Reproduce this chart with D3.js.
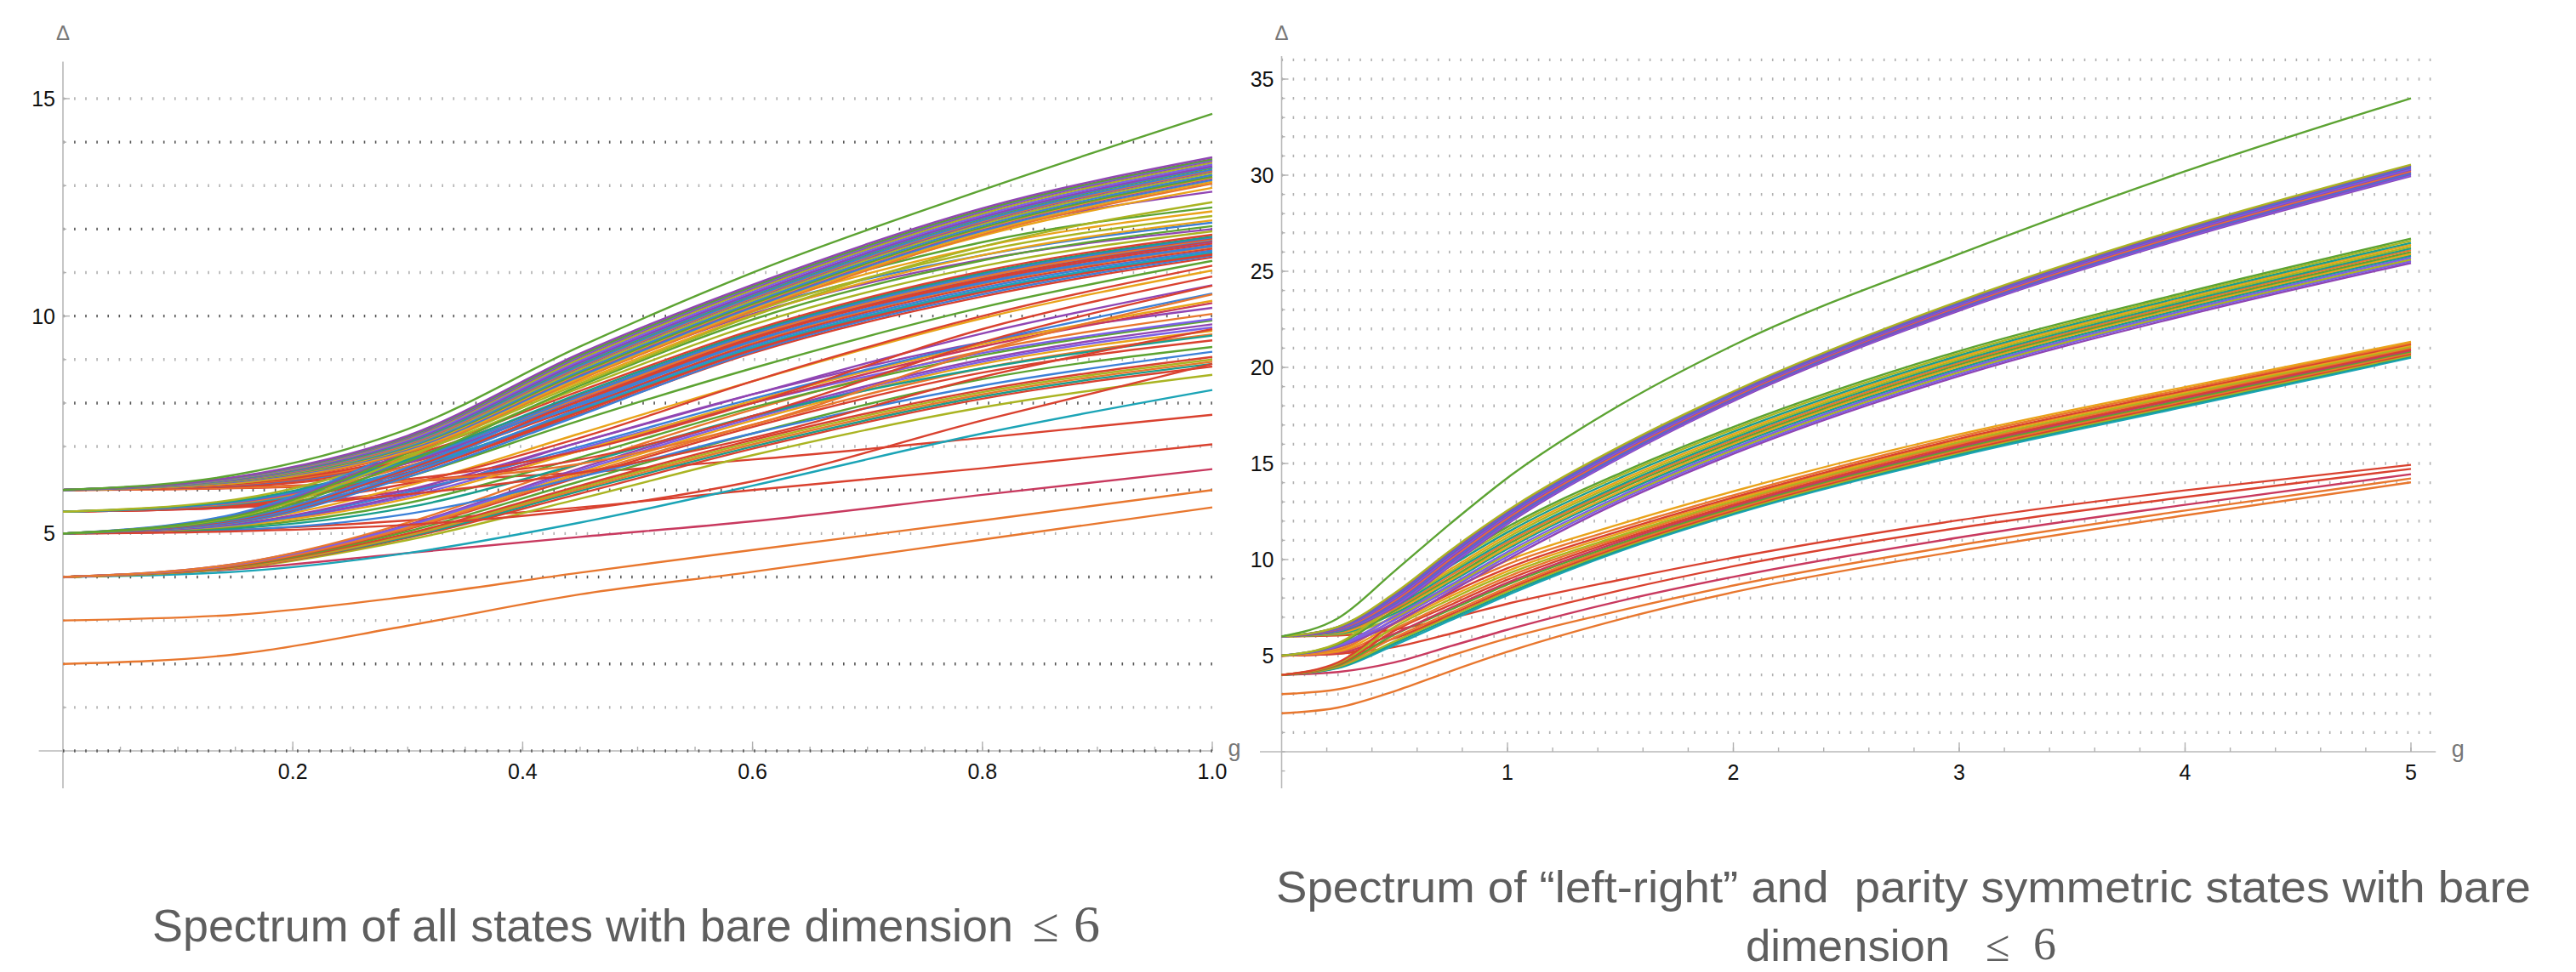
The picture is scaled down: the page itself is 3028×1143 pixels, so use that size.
<!DOCTYPE html>
<html><head><meta charset="utf-8">
<script src="https://cdn.jsdelivr.net/npm/d3@7"></script>
<style>
html,body{margin:0;padding:0;background:#fff;}
svg{display:block;}
.tick-label{font-family:"Liberation Sans","Helvetica","Arial",sans-serif;font-size:25px;fill:#111;}
.axis-name{font-family:"Liberation Sans","Helvetica","Arial",sans-serif;font-size:24px;fill:#777;}
.title{font-family:"Liberation Sans","Helvetica","Arial",sans-serif;fill:#5e5e5e;}
.math{font-family:"Liberation Serif","DejaVu Serif",serif;fill:#5e5e5e;}
</style></head>
<body>
<svg id="c" width="3028" height="1143"></svg>
<script>
// ---------- DATA ----------
const leftG = [0, 0.15, 0.3, 0.45, 0.6, 0.8, 1.0];
const leftSeries = [
  [2, 2.22, 2.88, 3.60, 4.12, 4.86, 5.60],
  [3, 3.13, 3.55, 4.10, 4.62, 5.30, 6.00],
  [4, 4.18, 4.55, 4.92, 5.28, 5.89, 6.48],
  [5, 5.08, 5.30, 5.60, 6.00, 6.50, 7.05],
  [6, 6.06, 6.20, 6.40, 6.70, 7.20, 7.73],
  [4, 4.12, 4.55, 5.25, 6.10, 7.30, 8.30],
  [4, 4.20, 4.85, 5.80, 6.80, 7.90, 8.65],
  [4, 4.21, 4.90, 5.92, 6.95, 8.10, 8.84],
  [4, 4.22, 4.92, 5.98, 7.00, 8.15, 8.90],
  [4, 4.22, 4.95, 6.02, 7.05, 8.20, 8.95],
  [4, 4.23, 4.97, 6.06, 7.10, 8.25, 9.00],
  [4, 4.24, 5.00, 6.10, 7.15, 8.30, 9.06],
  [4, 4.25, 5.05, 6.20, 7.30, 8.55, 9.29],
  [4, 4.26, 5.10, 6.30, 7.45, 8.70, 9.44],
  [4, 4.28, 5.15, 6.40, 7.60, 8.90, 9.66],
  [4, 4.30, 5.20, 6.50, 7.70, 9.00, 9.81],
  [4, 4.27, 5.12, 6.35, 7.50, 8.80, 9.58],
  [4, 4.29, 5.18, 6.45, 7.65, 8.95, 9.74],
  [4, 4.30, 5.25, 6.60, 7.85, 9.20, 10.05],
  [5, 5.08, 5.45, 6.30, 7.30, 8.40, 9.18],
  [5, 5.12, 5.60, 6.60, 7.70, 8.80, 9.55],
  [5, 5.15, 5.70, 6.75, 7.90, 9.10, 9.90],
  [5, 5.20, 5.85, 6.95, 8.00, 9.15, 9.93],
  [5, 5.20, 5.90, 7.10, 8.20, 9.40, 10.19],
  [5.5, 5.60, 6.00, 6.90, 8.00, 9.30, 10.30],
  [5, 5.18, 5.80, 6.90, 8.05, 9.35, 10.35],
  [5, 5.20, 5.95, 7.00, 8.10, 9.40, 10.52],
  [5, 5.22, 6.00, 7.10, 8.20, 9.60, 10.71],
  [6, 6.04, 6.20, 6.70, 7.70, 9.40, 10.70],
  [6, 6.05, 6.25, 6.90, 8.00, 9.70, 10.91],
  [5, 5.25, 6.10, 7.30, 8.50, 9.95, 11.05],
  [5.5, 5.62, 6.15, 7.20, 8.50, 10.00, 11.16],
  [5, 5.30, 6.30, 7.60, 8.80, 10.20, 11.27],
  [5, 5.05, 5.20, 5.55, 6.20, 7.60, 8.90],
  [5.5, 5.60, 5.90, 6.40, 7.20, 8.60, 9.70],
  [6, 6.05, 6.20, 6.60, 7.50, 9.20, 10.50],
  [5.5, 5.64, 6.40, 7.75, 9.15, 10.45, 11.35],
  [5, 5.25, 6.30, 7.72, 9.18, 10.50, 11.39],
  [5, 5.27, 6.35, 7.80, 9.26, 10.60, 11.41],
  [6, 6.08, 6.55, 7.80, 9.22, 10.55, 11.43],
  [5.5, 5.66, 6.45, 7.82, 9.25, 10.58, 11.45],
  [5.5, 5.68, 6.48, 7.85, 9.28, 10.60, 11.47],
  [5, 5.28, 6.38, 7.88, 9.32, 10.65, 11.51],
  [6, 6.10, 6.62, 7.92, 9.36, 10.70, 11.55],
  [5.5, 5.70, 6.55, 7.98, 9.40, 10.74, 11.59],
  [6, 6.11, 6.66, 7.96, 9.42, 10.76, 11.61],
  [5, 5.30, 6.45, 8.00, 9.44, 10.78, 11.63],
  [6, 6.12, 6.70, 8.05, 9.48, 10.82, 11.67],
  [5.5, 5.72, 6.62, 8.10, 9.52, 10.86, 11.71],
  [5, 5.31, 6.48, 8.05, 9.50, 10.85, 11.73],
  [5, 5.33, 6.52, 8.12, 9.56, 10.90, 11.75],
  [6, 6.13, 6.74, 8.12, 9.55, 10.90, 11.77],
  [6, 6.14, 6.78, 8.18, 9.60, 10.95, 11.79],
  [5.5, 5.73, 6.66, 8.16, 9.60, 10.95, 11.81],
  [5.5, 5.75, 6.70, 8.22, 9.64, 10.99, 11.83],
  [6, 6.15, 6.85, 8.28, 9.68, 11.03, 11.87],
  [5.5, 5.78, 6.80, 8.35, 9.80, 11.15, 11.95],
  [5, 5.42, 6.88, 8.60, 10.05, 11.30, 12.00],
  [5, 5.35, 6.65, 8.40, 9.92, 11.28, 12.07],
  [5, 5.45, 6.95, 8.70, 10.15, 11.40, 12.15],
  [6, 6.16, 6.92, 8.50, 10.02, 11.40, 12.20],
  [5, 5.38, 6.75, 8.55, 10.10, 11.50, 12.30],
  [6, 6.17, 6.98, 8.60, 10.18, 11.60, 12.41],
  [5, 5.40, 6.85, 8.65, 10.25, 11.70, 12.50],
  [6, 6.16, 6.88, 8.45, 10.00, 11.60, 12.62],
  [6, 6.18, 7.02, 8.70, 10.30, 11.95, 12.86],
  [6, 6.17, 6.95, 8.62, 10.20, 11.85, 12.95],
  [6, 6.18, 6.87, 8.55, 10.12, 11.88, 13.05],
  [6, 6.19, 6.90, 8.58, 10.16, 11.92, 13.09],
  [6, 6.19, 6.93, 8.62, 10.20, 11.96, 13.13],
  [6, 6.20, 6.95, 8.66, 10.24, 12.00, 13.17],
  [6, 6.21, 6.96, 8.68, 10.26, 12.02, 13.19],
  [6, 6.21, 6.98, 8.70, 10.28, 12.04, 13.21],
  [6, 6.22, 7.00, 8.74, 10.32, 12.08, 13.25],
  [6, 6.22, 7.03, 8.78, 10.36, 12.12, 13.29],
  [6, 6.23, 7.05, 8.82, 10.40, 12.16, 13.33],
  [6, 6.24, 7.06, 8.84, 10.42, 12.18, 13.35],
  [6, 6.24, 7.08, 8.86, 10.44, 12.20, 13.37],
  [6, 6.25, 7.10, 8.90, 10.48, 12.24, 13.41],
  [6, 6.26, 7.12, 8.92, 10.50, 12.26, 13.43],
  [6, 6.26, 7.13, 8.94, 10.52, 12.28, 13.45],
  [6, 6.27, 7.15, 8.98, 10.56, 12.32, 13.49],
  [6, 6.27, 7.18, 9.02, 10.60, 12.36, 13.53],
  [6, 6.28, 7.20, 9.06, 10.64, 12.40, 13.57],
  [6, 6.28, 7.22, 9.08, 10.66, 12.42, 13.59],
  [6, 6.29, 7.23, 9.10, 10.68, 12.44, 13.61],
  [6, 6.30, 7.25, 9.14, 10.72, 12.48, 13.65],
  [6, 6.35, 7.40, 9.30, 11.00, 12.90, 14.65]
];
const leftColors = ("O O P R R C L R T O L R G R Y U O V O " +
  "B T G V U P Y B U R R Y R G R R O " +
  "R B R R R C B R O B B R U R B O R B T R L U G B Y L Y G L U Y " +
  "O Y B U Y G B L U O B G B U V L U V G U G").split(" ");

const rightG = [0, 0.25, 0.5, 0.75, 1, 1.5, 2, 3, 4, 5];
const rightSeries = [
  // lowest group
  [2, 2.30, 3.15, 4.20, 5.20, 6.90, 8.30, 10.45, 12.30, 14.02],
  [3, 3.25, 4.00, 5.00, 5.90, 7.35, 8.65, 10.75, 12.55, 14.22],
  [4, 4.15, 4.65, 5.50, 6.35, 7.85, 9.10, 11.15, 12.85, 14.44],
  [5, 5.10, 5.45, 6.15, 6.95, 8.40, 9.65, 11.65, 13.25, 14.72],
  [6, 6.05, 6.35, 6.95, 7.70, 8.95, 10.10, 12.05, 13.60, 14.93],
  // third band
  [4, 4.35, 5.55, 6.85, 8.15, 10.45, 12.35, 15.40, 17.95, 20.50],
  [4, 4.38, 5.65, 6.95, 8.25, 10.52, 12.42, 15.48, 18.03, 20.57],
  [4, 4.42, 5.75, 7.05, 8.35, 10.60, 12.48, 15.56, 18.10, 20.63],
  [5, 5.10, 5.90, 7.15, 8.45, 10.68, 12.55, 15.63, 18.18, 20.70],
  [4, 4.46, 5.95, 7.25, 8.55, 10.76, 12.62, 15.71, 18.26, 20.76],
  [4, 4.50, 6.10, 7.40, 8.70, 10.85, 12.70, 15.79, 18.33, 20.83],
  [5, 5.15, 6.15, 7.50, 8.80, 10.95, 12.78, 15.87, 18.41, 20.89],
  [4, 4.55, 6.30, 7.65, 8.95, 11.05, 12.86, 15.95, 18.48, 20.96],
  [5, 5.20, 6.40, 7.80, 9.10, 11.15, 12.95, 16.03, 18.56, 21.02],
  [4, 4.60, 6.50, 7.95, 9.25, 11.25, 13.04, 16.11, 18.63, 21.08],
  [5, 5.25, 6.65, 8.10, 9.40, 11.38, 13.13, 16.20, 18.71, 21.15],
  [4, 4.65, 6.70, 8.25, 9.55, 11.50, 13.23, 16.29, 18.79, 21.21],
  [5, 5.32, 6.90, 8.45, 9.75, 11.65, 13.35, 16.40, 18.88, 21.27],
  [5, 5.40, 7.10, 8.65, 9.95, 11.85, 13.55, 16.52, 18.98, 21.33],
  // second band
  [5, 5.45, 6.70, 8.35, 10.00, 13.00, 15.50, 19.55, 22.70, 25.43],
  [5, 5.50, 6.85, 8.50, 10.15, 13.12, 15.60, 19.65, 22.80, 25.53],
  [6, 6.10, 7.00, 8.62, 10.28, 13.22, 15.70, 19.75, 22.88, 25.62],
  [5, 5.55, 7.05, 8.70, 10.40, 13.32, 15.80, 19.85, 22.97, 25.72],
  [6, 6.15, 7.20, 8.85, 10.55, 13.45, 15.92, 19.95, 23.07, 25.82],
  [6, 6.18, 7.30, 8.95, 10.65, 13.55, 16.02, 20.05, 23.16, 25.91],
  [5, 5.60, 7.35, 9.05, 10.78, 13.68, 16.12, 20.15, 23.25, 26.00],
  [6, 6.22, 7.45, 9.18, 10.90, 13.78, 16.22, 20.24, 23.34, 26.10],
  [6, 6.25, 7.55, 9.30, 11.02, 13.88, 16.32, 20.33, 23.43, 26.19],
  [5, 5.65, 7.60, 9.40, 11.15, 14.00, 16.42, 20.42, 23.52, 26.28],
  [6, 6.30, 7.72, 9.52, 11.28, 14.12, 16.53, 20.52, 23.61, 26.38],
  [6, 6.35, 7.85, 9.68, 11.42, 14.25, 16.65, 20.62, 23.70, 26.48],
  [6, 6.42, 7.98, 9.82, 11.56, 14.38, 16.78, 20.73, 23.80, 26.59],
  [6, 6.50, 8.10, 9.95, 11.70, 14.50, 16.90, 20.85, 23.90, 26.70],
  // top band
  [6, 6.30, 7.55, 9.70, 11.85, 15.30, 18.25, 22.95, 26.72, 29.95],
  [6, 6.32, 7.61, 9.77, 11.91, 15.35, 18.30, 23.00, 26.77, 30.00],
  [6, 6.34, 7.68, 9.85, 11.98, 15.41, 18.34, 23.04, 26.82, 30.06],
  [6, 6.35, 7.74, 9.92, 12.04, 15.46, 18.39, 23.09, 26.87, 30.11],
  [6, 6.37, 7.80, 9.99, 12.10, 15.52, 18.43, 23.13, 26.92, 30.17],
  [6, 6.39, 7.87, 10.06, 12.17, 15.57, 18.48, 23.18, 26.97, 30.22],
  [6, 6.41, 7.94, 10.14, 12.24, 15.63, 18.53, 23.23, 27.03, 30.28],
  [6, 6.43, 8.00, 10.21, 12.30, 15.68, 18.57, 23.27, 27.08, 30.33],
  [6, 6.45, 8.06, 10.28, 12.36, 15.74, 18.62, 23.32, 27.13, 30.39],
  [6, 6.46, 8.12, 10.36, 12.42, 15.79, 18.66, 23.36, 27.18, 30.44],
  [6, 6.48, 8.19, 10.43, 12.49, 15.85, 18.71, 23.41, 27.23, 30.50],
  [6, 6.50, 8.25, 10.50, 12.55, 15.90, 18.75, 23.45, 27.28, 30.55],
  // top line
  [6, 6.95, 9.40, 11.90, 14.25, 18.05, 21.15, 25.90, 30.20, 34.00]
];
const rightColors = ("O O P R R " +
  "C T L R O G P R O L Y R O Y " +
  "U V L V T Y G O T L Y T L G " +
  "U V U B U O U V U B U L G").split(" ");

const leftYTicks = [5, 10, 15];
const leftXTicks = [0.2, 0.4, 0.6, 0.8, 1.0];
const rightYTicks = [5, 10, 15, 20, 25, 30, 35];
const rightXTicks = [1, 2, 3, 4, 5];

const palette = {G:"#5ca332", O:"#e8772e", P:"#c8395f", C:"#1ba4b6", Y:"#e9a31a", L:"#aab422",
                 R:"#d9412f", B:"#3c80d8", U:"#9045b3", V:"#7c60e6", T:"#1a9e8e"};

// ---------- DRAW ----------
const svg = d3.select("#c");

function panel(cfg) {
  const x = d3.scaleLinear().domain(cfg.xDom).range(cfg.xRange);
  const y = d3.scaleLinear().domain(cfg.yDom).range(cfg.yRange);
  const g = svg.append("g");

  // dotted gridlines
  const grid = d3.range(cfg.gridFrom, cfg.gridTo + 1);
  g.selectAll("line.grid").data(grid).join("line")
    .attr("x1", x(0)).attr("x2", x(cfg.gridXEnd))
    .attr("y1", d => y(d)).attr("y2", d => y(d))
    .attr("stroke", d => cfg.darkEven && d % 2 === 0 ? "#555" : "#b0b0b0")
    .attr("stroke-width", 3.4)
    .attr("stroke-dasharray", "1.6 11.5");

  // axes lines
  g.append("line").attr("x1", x(0)).attr("x2", x(0))
    .attr("y1", y(cfg.yAxisFrom)).attr("y2", y(cfg.yAxisTo))
    .attr("stroke", "#b8b8b8").attr("stroke-width", 1.6);
  g.append("line").attr("x1", x(cfg.xAxisFrom)).attr("x2", x(cfg.xAxisTo))
    .attr("y1", y(0)).attr("y2", y(0))
    .attr("stroke", "#b8b8b8").attr("stroke-width", 1.6);

  // x ticks (inside, upwards)
  const xMinor = d3.range(cfg.xMinorStep, cfg.xDom[1] + 1e-9, cfg.xMinorStep);
  g.selectAll("line.xm").data(xMinor).join("line")
    .attr("x1", d => x(d)).attr("x2", d => x(d))
    .attr("y1", y(0)).attr("y2", y(0) - 5)
    .attr("stroke", "#b0b0b0").attr("stroke-width", 1.4);
  g.selectAll("line.xM").data(cfg.xTicks).join("line")
    .attr("x1", d => x(d)).attr("x2", d => x(d))
    .attr("y1", y(0)).attr("y2", y(0) - 11)
    .attr("stroke", "#b0b0b0").attr("stroke-width", 1.4);
  g.selectAll("text.xl").data(cfg.xTicks).join("text")
    .attr("class", "tick-label")
    .attr("x", d => x(d)).attr("y", y(0) + 33)
    .attr("text-anchor", "middle")
    .text(cfg.xFmt);

  // y ticks
  const yMinor = d3.range(cfg.yMinorFrom, cfg.yDom[1] + 1e-9, 1);
  g.selectAll("line.ym").data(yMinor).join("line")
    .attr("x1", x(0)).attr("x2", x(0) + 4)
    .attr("y1", d => y(d)).attr("y2", d => y(d))
    .attr("stroke", "#b0b0b0").attr("stroke-width", 1.4);
  g.selectAll("line.yM").data(cfg.yTicks).join("line")
    .attr("x1", x(0)).attr("x2", x(0) + 8)
    .attr("y1", d => y(d)).attr("y2", d => y(d))
    .attr("stroke", "#b0b0b0").attr("stroke-width", 1.4);
  g.selectAll("text.yl").data(cfg.yTicks).join("text")
    .attr("class", "tick-label")
    .attr("x", x(0) - 9).attr("y", d => y(d) + 9)
    .attr("text-anchor", "end")
    .text(d => d);

  // axis names
  g.append("text").attr("class", "axis-name")
    .attr("x", x(0)).attr("y", 47).attr("text-anchor", "middle").text("Δ");
  g.append("text").attr("class", "axis-name").style("font-size", "27px")
    .attr("x", x(cfg.xAxisTo) + 26).attr("y", y(0) + 6).attr("text-anchor", "middle").text("g");

  // curves
  const line = d3.line()
    .x((d, i) => x(cfg.gVals[i]))
    .y(d => y(d))
    .curve(d3.curveMonotoneX);
  g.selectAll("path.curve").data(cfg.series).join("path")
    .attr("fill", "none")
    .attr("stroke", (d, i) => palette[cfg.colors[i % cfg.colors.length]] || "#888")
    .attr("stroke-width", 2.4)
    .attr("stroke-linejoin", "round")
    .attr("d", line);
}

panel({
  xDom: [0, 1], xRange: [74, 1425],
  yDom: [0, 15], yRange: [883, 116],
  gridFrom: 1, gridTo: 15, gridXEnd: 1.0, darkEven: true,
  yAxisFrom: -0.86, yAxisTo: 15.85,
  xAxisFrom: -0.021, xAxisTo: 1.0,
  xMinorStep: 0.05, xTicks: leftXTicks, xFmt: d => d3.format(".1f")(d),
  yMinorFrom: 1, yTicks: leftYTicks,
  gVals: leftG, series: leftSeries, colors: leftColors
});
// dark dots on the zero line of the left panel
{
  const x = d3.scaleLinear().domain([0, 1]).range([74, 1425]);
  const y = d3.scaleLinear().domain([0, 15]).range([883, 116]);
  svg.append("line").attr("x1", x(0)).attr("x2", x(1)).attr("y1", y(0)).attr("y2", y(0))
    .attr("stroke", "#555").attr("stroke-width", 3.4).attr("stroke-dasharray", "1.6 11.5");
}

panel({
  xDom: [0, 5], xRange: [1506.5, 2834],
  yDom: [0, 35], yRange: [884, 93],
  gridFrom: 1, gridTo: 36, gridXEnd: 5.11, darkEven: false,
  yAxisFrom: -1.9, yAxisTo: 36.2,
  xAxisFrom: -0.096, xAxisTo: 5.11,
  xMinorStep: 0.2, xTicks: rightXTicks, xFmt: d => d,
  yMinorFrom: -1, yTicks: rightYTicks,
  gVals: rightG, series: rightSeries, colors: rightColors
});

// ---------- TITLES ----------
svg.append("text").attr("class", "title").attr("x", 179).attr("y", 1107)
  .style("font-size", "54px").attr("textLength", 1012).attr("lengthAdjust", "spacingAndGlyphs")
  .text("Spectrum of all states with bare dimension");
svg.append("text").attr("class", "math").attr("x", 1214).attr("y", 1107)
  .style("font-size", "56px").text("≤");
svg.append("text").attr("class", "math").attr("x", 1262).attr("y", 1107)
  .style("font-size", "62px").text("6");

svg.append("text").attr("class", "title").attr("x", 1500).attr("y", 1061)
  .style("font-size", "52px").attr("textLength", 1475).attr("lengthAdjust", "spacingAndGlyphs")
  .attr("xml:space", "preserve")
  .text("Spectrum of “left-right” and  parity symmetric states with bare");
svg.append("text").attr("class", "title").attr("x", 2052).attr("y", 1130)
  .style("font-size", "52px").attr("textLength", 240).attr("lengthAdjust", "spacingAndGlyphs")
  .text("dimension");
svg.append("text").attr("class", "math").attr("x", 2334).attr("y", 1130)
  .style("font-size", "52px").text("≤");
svg.append("text").attr("class", "math").attr("x", 2390).attr("y", 1128)
  .style("font-size", "54px").text("6");
</script>
</body></html>
